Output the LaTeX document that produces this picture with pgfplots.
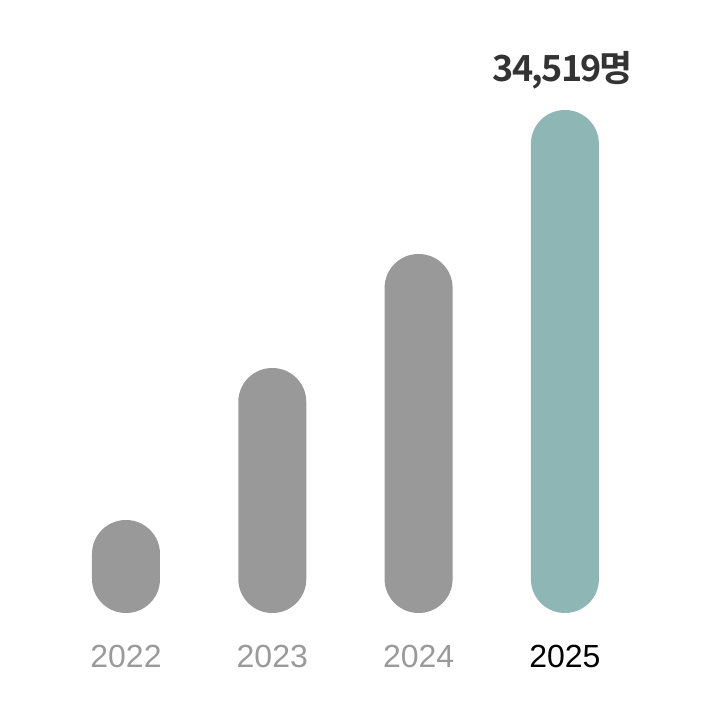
\documentclass[border=0pt]{standalone}
\usepackage{pgfplots}
\pgfplotsset{compat=1.18}
\usepackage{fontspec}
\setmainfont{Liberation Sans}
\newfontfamily\krfont{Noto Sans CJK KR}[BoldFont={* Bold}, LetterSpace=-5]
\definecolor{bargray}{HTML}{999999}
\definecolor{barteal}{HTML}{8EB6B5}
\definecolor{labgray}{HTML}{9A9A9A}
\definecolor{topdark}{HTML}{333333}
\begin{document}
\begin{tikzpicture}
\useasboundingbox (0,0) rectangle (720bp,720bp);
\begin{axis}[
  at={(0bp,107bp)}, anchor=south west,
  scale only axis, width=720bp, height=613bp,
  xmin=-0.8612, xmax=4.0602, ymin=0, ymax=42068,
  clip=false,
  axis line style={draw=none}, tick style={draw=none},
  ytick=\empty,
  xtick={0,1,2,3},
  xticklabels={\textcolor{labgray}{2022},\textcolor{labgray}{2023},\textcolor{labgray}{2024},\textcolor{black}{2025}},
  xticklabel style={anchor=base, yshift=-50bp, font=\fontsize{32bp}{36bp}\selectfont},
  ybar, bar width=68bp, bar shift=0pt,
]
\addplot[fill=bargray, draw=none, rounded corners=33.9bp] coordinates {(0,6382) (1,16813) (2,24637)};
\addplot[fill=barteal, draw=none, rounded corners=33.9bp,
  nodes near coords={\krfont\bfseries 34,519명},
  every node near coord/.style={anchor=base, xshift=-2bp, yshift=28bp, text=topdark, font=\fontsize{36bp}{42bp}\selectfont}
] coordinates {(3,34519)};
\end{axis}
\end{tikzpicture}
\end{document}
